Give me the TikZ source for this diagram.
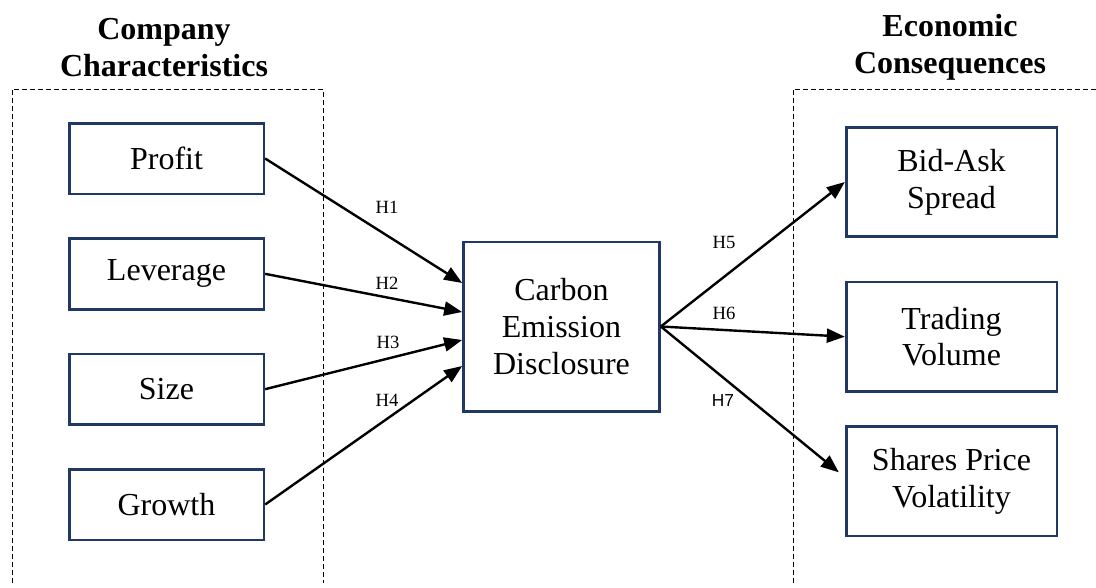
\documentclass[tikz,border=0pt]{standalone}
\usepackage{fontspec}
\setmainfont{Liberation Serif}
\newfontfamily\labelsans{Liberation Sans}
\usepackage{tikz}
\usetikzlibrary{arrows.meta}
\usetikzlibrary{positioning}
\definecolor{boxblue}{RGB}{31,56,100}

\begin{document}
\begin{tikzpicture}[x=0.75pt, y=-0.75pt,
    var/.style={draw=boxblue, line width=2pt, fill=white, align=center, font=\fontsize{24}{27.5}\selectfont},
    leftvar/.style={var, minimum width=146pt, minimum height=53pt},
    rightvar/.style={var, minimum width=158pt, minimum height=82pt},
    link/.style={-{Triangle[length=13.5pt,width=10.5pt]}, line width=1.8pt},
    hyp/.style={font=\fontsize{14}{16}\selectfont},
    group/.style={dash pattern=on 3.75pt off 2.25pt, line width=0.75pt},
    heading/.style={font=\fontsize{24}{27.75}\selectfont\bfseries, align=center, anchor=base}]
    \useasboundingbox (0,0) rectangle (1096,587);

    \draw[group] (12,583) -- (12,89) -- (323,89) -- (323,583);
    \draw[group] (793,583) -- (793,89) -- (1096,89);
    \node[heading] (company) at (164,76) {Company\\Characteristics};
    \node[heading] (economic) at (950,73) {Economic\\Consequences};

    \node[leftvar] (profit) at (166.5,158.5) {Profit};
    \node[leftvar, below=31.5pt of profit] (leverage) {Leverage};
    \node[leftvar, below=31.5pt of leverage] (size) {Size};
    \node[leftvar, below=31.5pt of size] (growth) {Growth};

    \node[var, minimum width=147pt, minimum height=127pt] (carbon) at (561.5,326.5) {Carbon\\Emission\\Disclosure};

    \node[rightvar] (bidask) at (951.5,182) {Bid-Ask\\Spread};
    \node[rightvar, below=32pt of bidask] (trading) {Trading\\Volume};
    \node[rightvar, below=24.5pt of trading] (shares) {Shares Price\\Volatility};

    \draw[link] (profit.east) -- ([shift={(0,-43.5)}]carbon.west);
    \draw[link] (leverage.east) -- ([shift={(0,-14.5)}]carbon.west);
    \draw[link] (size.east) -- ([shift={(0,13.5)}]carbon.west);
    \draw[link] (growth.east) -- ([shift={(0,39.5)}]carbon.west);
    \draw[link] (carbon.east) -- (bidask.west);
    \draw[link] (carbon.east) -- (trading.west);
    \draw[link] (carbon.east) -- ([shift={(-6,-9)}]shares.west);

    \node[hyp] (h1) at (387,207) {H1};
    \node[hyp] (h2) at (387,283) {H2};
    \node[hyp] (h3) at (388,342) {H3};
    \node[hyp] (h4) at (387,400) {H4};
    \node[hyp] (h5) at (724,242) {H5};
    \node[hyp] (h6) at (724,313) {H6};
    \node[hyp, font=\labelsans\fontsize{13}{15}\selectfont] (h7) at (723,401) {H7};
\end{tikzpicture}
\end{document}
